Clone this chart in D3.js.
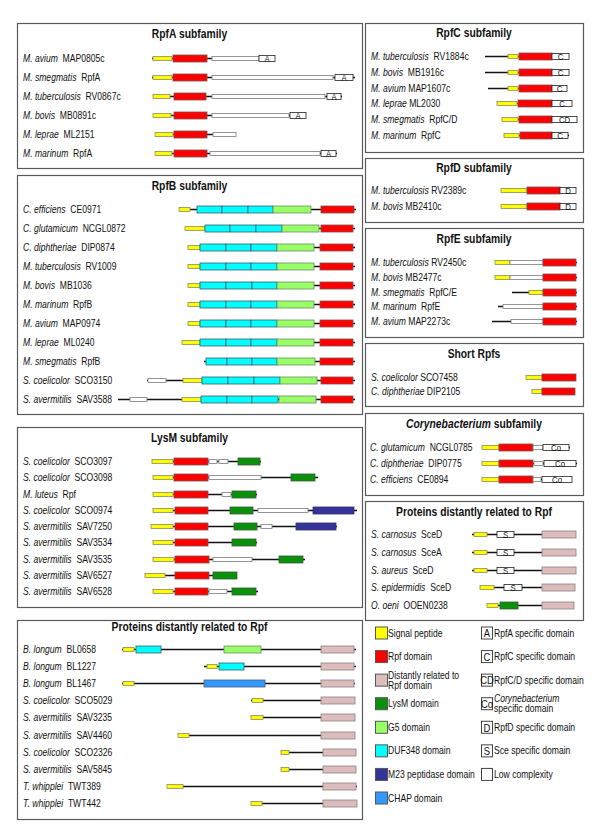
<!DOCTYPE html>
<html><head><meta charset="utf-8">
<script src="https://cdn.jsdelivr.net/npm/d3@7"></script>
<style>
body{margin:0;background:#fff}
text{font-family:"Liberation Sans",Arial,Helvetica,sans-serif;white-space:pre}
</style>
</head><body>
<svg id="chart" width="600" height="840"></svg>
<script>
// ---------- DATA (positions in track units along each protein) ----------
// [species, id (leading space = wide gap), start, end, [[domainType, from, to], ...]]
const rpfAProteins = [
  ["M. avium", " MAP0805c", 152, 275, [["sig",153,172],["rpf",173,207],["lc",212,259],["A",259,275]]],
  ["M. smegmatis", " RpfA", 152, 355, [["sig",153,172],["rpf",173,207],["lc",212,333],["A",335,353]]],
  ["M. tuberculosis", " RV0867c", 153, 342, [["sig",153,170],["rpf",174,206],["lc",212,325],["A",327,341]]],
  ["M. bovis", " MB0891c", 153, 306, [["sig",153,171],["rpf",174,207],["lc",212,289],["A",290,306]]],
  ["M. leprae", " ML2151", 155, 236, [["sig",155,173],["rpf",174,207],["lc",213,236]]],
  ["M. marinum", " RpfA", 155, 337, [["sig",155,172],["rpf",174,207],["lc",210,320],["A",321,336]]]
];
const rpfBProteins = [
  ["C. efficiens", " CE0971", 179, 356, [["sig",179,190],["duf",197,222],["duf",222,248],["duf",248,273],["g5",273,311],["rpf",321,354]]],
  ["C. glutamicum", " NCGL0872", 185, 355, [["sig",185,205],["duf",205,230],["duf",230,256],["duf",256,282],["g5",282,319],["rpf",321,353]]],
  ["C. diphtheriae", " DIP0874", 188, 355, [["sig",188,200],["duf",200,226],["duf",226,251],["duf",251,277],["g5",277,314],["rpf",320,353]]],
  ["M. tuberculosis", " RV1009", 188, 355, [["sig",188,200],["duf",200,226],["duf",226,251],["duf",251,277],["g5",277,314],["rpf",320,353]]],
  ["M. bovis", " MB1036", 188, 355, [["sig",188,200],["duf",200,226],["duf",226,252],["duf",252,277],["g5",277,314],["rpf",320,353]]],
  ["M. marinum", " RpfB", 188, 355, [["sig",188,200],["duf",200,226],["duf",226,251],["duf",251,277],["g5",277,314],["rpf",320,353]]],
  ["M. avium", " MAP0974", 188, 355, [["sig",188,200],["duf",200,226],["duf",226,251],["duf",251,277],["g5",277,314],["rpf",320,353]]],
  ["M. leprae", " ML0240", 182, 355, [["sig",182,200],["duf",200,226],["duf",226,251],["duf",251,277],["g5",277,314],["rpf",320,353]]],
  ["M. smegmatis", " RpfB", 204, 355, [["duf",206,227],["duf",227,252],["duf",252,277],["g5",277,315],["rpf",320,353]]],
  ["S. coelicolor", " SCO3150", 147, 355, [["lc",148,166],["sig",183,202],["duf",202,228],["duf",228,254],["duf",254,280],["g5",280,317],["rpf",321,353]]],
  ["S. avermitilis", " SAV3588", 118, 355, [["lc",130,147],["sig",182,201],["duf",201,227],["duf",227,252],["duf",252,278],["g5",279,316],["rpf",321,353]]]
];
const lysMProteins = [
  ["S. coelicolor", " SCO3097", 152, 261, [["sig",152,173],["rpf",174,208],["lc",209,217],["lc",219,228],["lysm",238,260]]],
  ["S. coelicolor", " SCO3098", 153, 318, [["sig",153,173],["rpf",174,208],["lc",209,261],["lysm",291,315]]],
  ["M. luteus", " Rpf", 153, 257, [["sig",153,173],["rpf",174,208],["lc",222,231],["lysm",232,256]]],
  ["S. coelicolor", " SCO0974", 153, 357, [["sig",153,173],["rpf",175,208],["lysm",230,253],["lc",258,308],["m23",313,354]]],
  ["S. avermitilis", " SAV7250", 151, 337, [["sig",151,173],["rpf",175,208],["lysm",234,257],["lc",261,272],["m23",296,336]]],
  ["S. avermitilis", " SAV3534", 153, 257, [["sig",153,173],["rpf",175,208],["lysm",232,256]]],
  ["S. avermitilis", " SAV3535", 153, 305, [["sig",153,174],["rpf",175,209],["lc",213,252],["lysm",279,303]]],
  ["S. avermitilis", " SAV6527", 145, 237, [["sig",145,165],["rpf",175,209],["lysm",213,237]]],
  ["S. avermitilis", " SAV6528", 153, 258, [["sig",153,173],["rpf",175,208],["lc",209,227],["lysm",232,256]]]
];
const distantLeftProteins = [
  ["B. longum", " BL0658", 122, 356, [["sig",123,134],["duf",136,161],["g5",224,261],["pink",321,354]]],
  ["B. longum", " BL1227", 204, 356, [["sig",207,217],["duf",219,244],["pink",321,354]]],
  ["B. longum", " BL1467", 122, 355, [["sig",123,134],["chap",204,265],["pink",321,354]]],
  ["S. coelicolor", " SCO5029", 251, 355, [["sig",252,263],["pink",321,355]]],
  ["S. avermitilis", " SAV3235", 251, 355, [["sig",251,263],["pink",321,355]]],
  ["S. avermitilis", " SAV4460", 178, 355, [["sig",178,189],["pink",321,355]]],
  ["S. coelicolor", " SCO2326", 281, 356, [["sig",281,289],["pink",323,356]]],
  ["S. avermitilis", " SAV5845", 281, 356, [["sig",281,289],["pink",323,356]]],
  ["T. whipplei", " TWT389", 167, 357, [["sig",167,183],["pink",323,356]]],
  ["T. whipplei", " TWT442", 251, 357, [["sig",251,262],["pink",323,357]]]
];
const rpfCProteins = [
  ["M. tuberculosis", " RV1884c", 485, 569, [["sig",508,518],["rpf",519,552],["C",552,569]]],
  ["M. bovis", " MB1916c", 485, 569, [["sig",508,518],["rpf",519,552],["C",552,569]]],
  ["M. avium", "MAP1607c", 488, 567, [["sig",508,518],["rpf",519,552],["C",552,567]]],
  ["M. leprae", "ML2030", 497, 572, [["sig",497,517],["rpf",518,552],["C",552,572]]],
  ["M. smegmatis", " RpfC/D", 502, 577, [["sig",502,518],["rpf",519,552],["CD",552,577]]],
  ["M. marinum", " RpfC", 504, 569, [["sig",504,519],["rpf",520,552],["C",552,568]]]
];
const rpfDProteins = [
  ["M. tuberculosis", "RV2389c", 501, 576, [["sig",501,527],["rpf",527,560],["D",560,576]]],
  ["M. bovis", "MB2410c", 501, 576, [["sig",501,527],["rpf",527,560],["D",560,576]]]
];
const rpfEProteins = [
  ["M. tuberculosis", "RV2450c", 495, 577, [["sig",495,510],["lc",510,543],["rpf",543,576]]],
  ["M. bovis", "MB2477c", 495, 577, [["sig",495,510],["lc",510,543],["rpf",543,576]]],
  ["M. smegmatis", " RpfC/E", 512, 577, [["sig",529,543],["rpf",543,576]]],
  ["M. marinum", " RpfE", 498, 577, [["lc",503,543],["rpf",543,576]]],
  ["M. avium", "MAP2273c", 492, 577, [["lc",511,543],["rpf",543,576]]]
];
const shortRpfProteins = [
  ["S. coelicolor", "SCO7458", 526, 576, [["sig",526,542],["rpf",542,576]]],
  ["C. diphtheriae", "DIP2105", 532, 575, [["sig",532,542],["rpf",542,575]]]
];
const corynProteins = [
  ["C. glutamicum", " NCGL0785", 482, 570, [["sig",482,499],["rpf",499,533],["lc",533,543],["Co",543,569]]],
  ["C. diphtheriae", " DIP0775", 482, 577, [["sig",482,499],["rpf",499,533],["lc",534,543],["Co",544,576]]],
  ["C. efficiens", " CE0894", 482, 572, [["sig",482,499],["rpf",499,533],["lc",533,541],["Co",542,572]]]
];
const distantRightProteins = [
  ["S. carnosus", " SceD", 472, 576, [["sig",474,487],["S",497,514],["pink",542,576]]],
  ["S. carnosus", " SceA", 472, 576, [["sig",474,487],["S",497,514],["pink",542,576]]],
  ["S. aureus", " SceD", 472, 576, [["sig",474,487],["S",497,514],["pink",542,576]]],
  ["S. epidermidis", " SceD", 480, 575, [["sig",480,494],["S",504,522],["pink",542,575]]],
  ["O. oeni", " OOEN0238", 487, 574, [["sig",487,498],["lysm",500,518],["pink",542,574]]]
];
const legendLeft = [
  ["sig", ["Signal peptide"]], ["rpf", ["Rpf domain"]], ["pink", ["Distantly related to", "Rpf domain"]],
  ["lysm", ["LysM domain"]], ["g5", ["G5 domain"]], ["duf", ["DUF348 domain"]],
  ["m23", ["M23 peptidase domain"]], ["chap", ["CHAP domain"]]
];
const legendRight = [
  ["A", ["RpfA specific domain"]], ["C", ["RpfC specific domain"]], ["CD", ["RpfC/D specific domain"]],
  ["Co", ["*Corynebacterium", "specific domain"]], ["D", ["RpfD specific domain"]],
  ["S", ["Sce specific domain"]], ["", ["Low complexity"]]
];

// ---------- LAYOUT / STYLE ----------
const panels = [
  {title:["RpfA subfamily"], data:rpfAProteins, box:[17,23,362,168], ty:34, labelX:23, y0:58, y1:153},
  {title:["RpfB subfamily"], data:rpfBProteins, box:[17,175,362,414], ty:186, labelX:23, y0:209, y1:399},
  {title:["LysM subfamily"], data:lysMProteins, box:[17,427,362,607], ty:438, labelX:23, y0:461, y1:591},
  {title:["Proteins distantly related to Rpf"], data:distantLeftProteins, box:[17,620,362,819], ty:627, labelX:23, y0:649, y1:803},
  {title:["RpfC subfamily"], data:rpfCProteins, box:[365,23,583,152], ty:33, labelX:371, y0:56, y1:135},
  {title:["RpfD subfamily"], data:rpfDProteins, box:[365,158,583,222], ty:168, labelX:371, y0:190, y1:206},
  {title:["RpfE subfamily"], data:rpfEProteins, box:[365,228,583,337], ty:239, labelX:371, y0:262, y1:321},
  {title:["Short Rpfs"], data:shortRpfProteins, box:[365,343,583,406], ty:354, labelX:371, y0:377, y1:391},
  {title:["*Corynebacterium", " subfamily"], data:corynProteins, box:[365,413,583,495], ty:424, labelX:370, y0:447, y1:479},
  {title:["Proteins distantly related to Rpf"], data:distantRightProteins, box:[365,501,583,620], ty:512, labelX:371, y0:534, y1:605}
];
const styles = {
  sig:  {fill:"#ffff00", stroke:"#8c8c5a", h:4},
  rpf:  {fill:"#ff0000", stroke:"#7a5050", h:7},
  pink: {fill:"#dcbcbc", stroke:"#8a8080", h:7},
  lysm: {fill:"#0b900b", stroke:"#3a5a3a", h:7},
  g5:   {fill:"#99ff66", stroke:"#6a8a6a", h:7},
  duf:  {fill:"#00ffff", stroke:"#3a5a6a", h:7},
  m23:  {fill:"#333399", stroke:"#333366", h:7},
  chap: {fill:"#3399ff", stroke:"#4a5a7a", h:7},
  lc:   {fill:"#ffffff", stroke:"#7a7a7a", h:4},
  spec: {fill:"#ffffff", stroke:"#222222", h:6}
};
const SX = 0.86; // horizontal condensing of the original lettering

const svg = d3.select("#chart");
const x = d3.scaleLinear().domain([0, 600]).range([0, 600]);

function addText(g, px, py, parts, size, anchor, bold, extra) {
  const t = g.append("text")
    .attr("transform", `translate(${px},${py}) scale(${SX},1)`)
    .attr("dy", "0.35em")
    .attr("font-size", size)
    .attr("text-anchor", anchor || "start")
    .attr("font-weight", bold ? "bold" : "normal")
    .attr("fill", "#111");
  parts.forEach(p => {
    const it = p.startsWith("*");
    t.append("tspan").attr("font-style", it ? "italic" : "normal").text(it ? p.slice(1) : p);
  });
  return t;
}

function styleOf(type) { return styles[type] || styles.spec; }

panels.forEach(p => {
  const g = svg.append("g");
  const [bx0, by0, bx1, by1] = p.box;
  g.append("rect").attr("x", bx0 + 0.5).attr("y", by0 + 0.5)
    .attr("width", bx1 - bx0).attr("height", by1 - by0)
    .attr("fill", "none").attr("stroke", "#5a5a5a").attr("stroke-width", 1.2);
  addText(g, (bx0 + bx1) / 2, p.ty, p.title, 12, "middle", true);

  const yRow = d3.scalePoint().domain(d3.range(p.data.length)).range([p.y0, p.y1]);
  p.data.forEach((d, i) => {
    const [sp, id, s, e, doms] = d;
    const yc = Math.round(yRow(i)) + 0.5;
    addText(g, p.labelX, yc, ["*" + sp + " ", id], 10, "start", false);
    g.append("line").attr("x1", x(s)).attr("x2", x(e)).attr("y1", yc).attr("y2", yc)
      .attr("stroke", "#111").attr("stroke-width", 1.3);
    doms.forEach(([type, a, b]) => {
      const st = styleOf(type);
      g.append("rect").attr("x", x(a)).attr("y", yc - st.h / 2)
        .attr("width", x(b) - x(a)).attr("height", st.h)
        .attr("fill", st.fill).attr("stroke", st.stroke).attr("stroke-width", 0.8);
      if (!styles[type]) {
        addText(g, (x(a) + x(b)) / 2, yc + 0.5, [type], 9, "middle", false);
      }
    });
  });
});

// ---------- LEGEND ----------
const lg = svg.append("g");
const yLeg = d3.scalePoint().domain(d3.range(legendLeft.length)).range([633, 798]);
legendLeft.forEach(([type, lines], i) => {
  const st = styles[type], yc = yLeg(i);
  lg.append("rect").attr("x", 375.5).attr("y", yc - 6).attr("width", 12).attr("height", 12)
    .attr("fill", st.fill).attr("stroke", "#555").attr("stroke-width", 1);
  lines.forEach((ln, j) => addText(lg, 388, yc + (j - (lines.length - 1) / 2) * 10, [ln], 10, "start", false));
});
legendRight.forEach(([code, lines], i) => {
  const yc = yLeg(i);
  lg.append("rect").attr("x", 481.5).attr("y", yc - 6).attr("width", 11).attr("height", 12)
    .attr("fill", "#fff").attr("stroke", "#444").attr("stroke-width", 1);
  if (code) addText(lg, 487, yc + 0.5, [code], 11, "middle", false);
  lines.forEach((ln, j) => addText(lg, 494, yc + (j - (lines.length - 1) / 2) * 10, [ln], 10, "start", false));
});
</script>
</body></html>
